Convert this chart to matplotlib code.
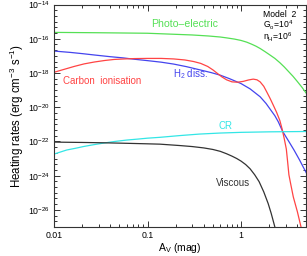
import numpy as np
import matplotlib
matplotlib.use("Agg")
from matplotlib import pyplot as plt
from matplotlib.ticker import LogLocator, FixedLocator, NullFormatter

plt.rcParams['font.family'] = ['Liberation Sans', 'DejaVu Sans']
plt.rcParams['mathtext.fontset'] = 'custom'
plt.rcParams['mathtext.rm'] = 'Liberation Sans'
plt.rcParams['mathtext.it'] = 'Liberation Sans'
plt.rcParams['mathtext.default'] = 'rm'

# values (A_V in mag, log10 of heating rate)
pe_av = [0.01, 0.03, 0.1, 0.3, 0.45, 0.6, 0.7, 0.85, 1.0, 1.15, 1.3, 1.45, 1.6, 1.8, 2.0,
         2.3, 2.6, 2.9, 3.2, 3.6, 4.0, 4.5, 5.0]
pe_lg = [-15.63, -15.65, -15.68, -15.78, -15.84, -15.9, -15.95, -16.02, -16.1, -16.2, -16.32,
         -16.44, -16.57, -16.75, -16.92, -17.15, -17.4, -17.65, -17.9, -18.2, -18.5, -18.85, -19.2]

h2_av = [0.01, 0.015, 0.02, 0.027, 0.04, 0.055, 0.07, 0.1, 0.14, 0.19, 0.26, 0.37, 0.48, 0.6,
         0.75, 1.0, 1.25, 1.6, 1.85, 2.05, 2.3, 2.5, 2.79, 3.3, 3.7, 4.2, 5.0]
h2_lg = [-16.72, -16.8, -16.87, -16.95, -17.05, -17.12, -17.19, -17.28, -17.37, -17.48, -17.63,
         -17.83, -17.98, -18.13, -18.33, -18.62, -18.93, -19.39, -19.78, -20.12, -20.5, -20.85,
         -21.42, -22.07, -22.52, -23.06, -23.85]

c_av = [0.01, 0.013, 0.0164, 0.021, 0.027, 0.035, 0.044, 0.057, 0.072, 0.1, 0.14, 0.19, 0.25,
        0.31, 0.37, 0.44, 0.5, 0.56, 0.62, 0.7, 0.8, 0.92, 1.06, 1.2, 1.35, 1.48, 1.6, 1.75,
        1.88, 2.05, 2.22, 2.4, 2.6, 2.75, 2.9, 3.05, 3.15, 3.25, 3.4, 3.62, 4.0, 4.38]
c_lg = [-17.96, -17.78, -17.62, -17.47, -17.36, -17.27, -17.21, -17.18, -17.16, -17.15, -17.15,
        -17.18, -17.24, -17.33, -17.44, -17.62, -17.82, -18.03, -18.22, -18.4, -18.52, -18.54,
        -18.49, -18.41, -18.36, -18.4, -18.52, -18.78, -19.1, -19.5, -19.9, -20.3, -20.78,
        -21.28, -21.85, -22.45, -23.2, -23.95, -24.5, -25.24, -26.1, -27.0]

cr_av = [0.01, 0.012, 0.0137, 0.017, 0.0206, 0.026, 0.0337, 0.045, 0.06, 0.08, 0.1, 0.136,
         0.22, 0.36, 0.6, 1.0, 2.0, 5.0]
cr_lg = [-22.74, -22.6, -22.5, -22.4, -22.3, -22.2, -22.1, -22.0, -21.92, -21.86, -21.81,
         -21.76, -21.66, -21.57, -21.51, -21.47, -21.44, -21.42]

vis_av = [0.01, 0.02, 0.034, 0.06, 0.1, 0.136, 0.22, 0.3, 0.4, 0.5, 0.6, 0.7, 0.8, 0.9, 1.0,
          1.12, 1.25, 1.4, 1.56, 1.75, 1.95, 2.1, 2.3]
vis_lg = [-22.04, -22.06, -22.08, -22.11, -22.14, -22.16, -22.24, -22.3, -22.38, -22.47,
          -22.58, -22.72, -22.86, -23.0, -23.15, -23.35, -23.6, -23.95, -24.35, -24.95,
          -25.63, -26.2, -27.0]

yticks = [1e-26, 1e-24, 1e-22, 1e-20, 1e-18, 1e-16, 1e-14]
ytick_labels = [r'$10^{-26}$', r'$10^{-24}$', r'$10^{-22}$', r'$10^{-20}$',
                r'$10^{-18}$', r'$10^{-16}$', r'$10^{-14}$']
xticks = [0.01, 0.1, 1]
xtick_labels = ['0.01', '0.1', '1']

fig = plt.figure(figsize=(3.07, 2.56), dpi=100)
ax = fig.add_axes([54 / 307, 1 - 227 / 256, 252 / 307, 222.5 / 256])

green = '#55e055'
blue = '#4444ee'
red = '#ff4444'
cyan = '#33e6e6'
black = '#333333'
lw = 0.9

ax.plot(pe_av, 10 ** np.array(pe_lg), color=green, lw=lw)
ax.plot(h2_av, 10 ** np.array(h2_lg), color=blue, lw=lw)
ax.plot(c_av, 10 ** np.array(c_lg), color=red, lw=lw)
ax.plot(cr_av, 10 ** np.array(cr_lg), color=cyan, lw=lw)
ax.plot(vis_av, 10 ** np.array(vis_lg), color=black, lw=lw)

ax.set_xscale('log')
ax.set_yscale('log')
ax.set_xlim(0.01, 4.95)
ax.set_ylim(1e-27, 1e-14)

ax.set_xticks(xticks)
ax.set_xticklabels(xtick_labels)
ax.xaxis.set_minor_locator(LogLocator(base=10, subs=np.arange(2, 10)))
ax.xaxis.set_minor_formatter(NullFormatter())
ax.set_yticks(yticks)
ax.set_yticklabels(ytick_labels)
yminor = [10 ** (e / 3) for e in range(-81, -41) if e % 6 != 0]
ax.yaxis.set_minor_locator(FixedLocator(yminor))
ax.yaxis.set_minor_formatter(NullFormatter())

ax.tick_params(which='both', direction='in', top=True, right=True, labelsize=6.3,
               color='#333333', width=0.7)
ax.tick_params(which='major', length=4.5, pad=3)
ax.tick_params(which='minor', length=2.3)
for s in ax.spines.values():
    s.set_linewidth(0.8)
    s.set_color('#333333')

ax.set_xlabel(r'A$_V$ (mag)', fontsize=7.5, labelpad=0.5)
ax.set_ylabel(r'Heating rates (erg cm$^{-3}$ s$^{-1}$)', fontsize=8.3, labelpad=1)

fs = 7
ax.text(0.109, 10 ** -15.14, 'Photo\u2013electric', color=green, fontsize=7.6, va='center')
ax.text(0.0124, 10 ** -18.46, 'Carbon  ionisation', color=red, fontsize=fs, va='center')
ax.text(0.187, 10 ** -18.06, r'H$_2$ diss.', color=blue, fontsize=fs, va='center')
ax.text(0.568, 10 ** -21.1, 'CR', color=cyan, fontsize=fs, va='center')
ax.text(0.541, 10 ** -24.44, 'Viscous', color=black, fontsize=fs, va='center')

ax.text(0.829, 0.942, 'Model  2', transform=ax.transAxes, fontsize=6.2, va='baseline')
ax.text(0.829, 0.894, r'G$_o$=10$^4$', transform=ax.transAxes, fontsize=6.2, va='baseline')
ax.text(0.829, 0.838, r'n$_H$=10$^6$', transform=ax.transAxes, fontsize=6.2, va='baseline')

fig.savefig('out.png', dpi=100)
